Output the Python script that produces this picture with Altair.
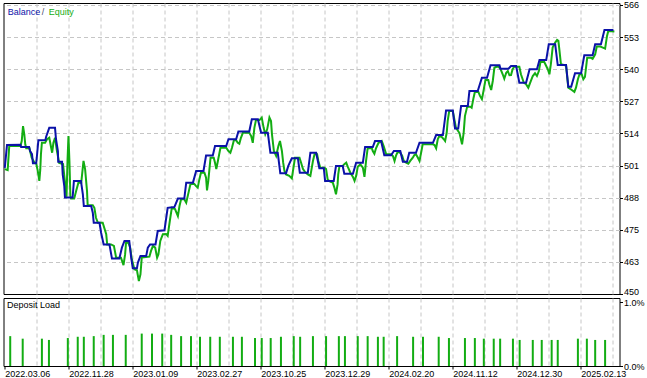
import json
import altair as alt
import pandas as pd

# ---- data (x = deal progress, v = account value) ----
balance_points = [
    (0, 500.6), (0.7, 509.8), (4.9, 509.9), (5.1, 509.0), (7.6, 509.0), (7.9, 507.4), (8.5, 506.2),
    (8.8, 502.5), (9.8, 502.5), (10.0, 504.7), (10.5, 511.7), (12.7, 511.8), (12.9, 513.0), (13.9, 516.7),
    (15.7, 516.7), (16.0, 512.2), (16.6, 507.4), (16.7, 503.1), (17.9, 503.1), (18.1, 498.0), (18.6, 493.3),
    (18.8, 488.7), (20.7, 488.7), (21.2, 488.7), (21.6, 495.4), (23.8, 495.4), (24.4, 490.0), (24.7, 485.3),
    (27.0, 485.3), (27.5, 482.6), (27.8, 478.6), (29.6, 478.6), (30.1, 474.6), (30.9, 469.9), (32.7, 469.9),
    (33.5, 464.2), (35.8, 464.2), (36.6, 468.6), (37.4, 471.3), (38.9, 471.3), (39.5, 464.6), (40.0, 460.3),
    (41.3, 460.3), (41.6, 462.6), (42.4, 465.3), (44.2, 465.3), (44.7, 468.6), (45.4, 469.9), (47.1, 469.9),
    (47.8, 475.3), (49.9, 475.6), (50.9, 484.6), (53.0, 484.9), (54.1, 488.3), (56.1, 488.3), (56.7, 494.7),
    (58.8, 494.7), (59.8, 499.4), (62.1, 499.4), (62.9, 505.6), (65.0, 505.6), (65.7, 509.4), (69.2, 509.4),
    (69.9, 512.1), (72.3, 512.1), (73.0, 515.2), (76.4, 515.2), (77.2, 520.1), (79.1, 520.1), (80.1, 514.7),
    (82.2, 514.7), (83.0, 506.7), (85.3, 506.7), (86.1, 498.5), (87.9, 498.5), (88.6, 501.4), (89.7, 504.5),
    (91.6, 504.5), (92.2, 498.7), (94.7, 498.7), (95.5, 506.7), (97.3, 506.7), (98.3, 500.5), (99.7, 500.5),
    (100.1, 495.4), (102.8, 495.4), (103.5, 501.4), (105.6, 501.4), (106.1, 498.3), (108.8, 498.3),
    (109.8, 502.7), (111.9, 502.7), (112.6, 509.0), (115.0, 509.0), (115.7, 511.4), (117.6, 511.4),
    (118.6, 505.7), (120.7, 505.7), (121.6, 507.4), (123.6, 507.4), (124.4, 503.1), (125.7, 503.1),
    (126.4, 506.7), (128.5, 506.7), (129.6, 510.7), (133.8, 510.7), (134.8, 513.8), (136.9, 513.8),
    (137.9, 523.7), (140.0, 523.7), (140.7, 516.4), (141.7, 516.4), (142.6, 525.5), (144.7, 525.5),
    (145.2, 531.5), (147.8, 531.5), (149.1, 536.8), (150.7, 536.8), (151.8, 541.8), (154.6, 541.8),
    (154.9, 540.4), (157.4, 540.4), (158.2, 541.5), (159.8, 541.5), (160.8, 534.8), (162.9, 534.8),
    (164.0, 540.2), (166.3, 540.2), (167.1, 543.9), (169.2, 543.9), (170.0, 550.2), (172.0, 550.2),
    (172.8, 541.9), (175.4, 541.9), (176.1, 533.2), (177.0, 533.2), (178.2, 538.6), (180.1, 538.6),
    (181.1, 545.8), (183.7, 545.8), (184.5, 550.2), (186.3, 550.2), (187.4, 556.0), (190.2, 556.0),
]

equity_points = [
    (0, 500.1), (0.9, 499.7), (1.4, 509.4), (4.9, 509.4), (5.3, 511.4), (5.7, 517.4), (6.1, 514.1),
    (6.4, 510.1), (6.7, 508.5), (7.7, 508.5), (8.4, 504.7), (9.3, 502.7), (9.8, 502.6), (10.3, 499.4),
    (10.8, 495.4), (11.1, 500.1), (11.3, 506.1), (11.6, 510.7), (12.6, 510.7), (13.2, 512.1), (13.9, 512.7),
    (14.5, 508.7), (14.8, 506.7), (15.2, 510.7), (15.7, 512.7), (16.3, 507.4), (17.0, 502.6), (18.2, 502.2),
    (18.7, 496.2), (19.3, 489.0), (19.6, 503.4), (19.9, 513.4), (20.2, 503.4), (20.5, 489.3), (20.7, 488.3),
    (21.7, 488.3), (22.3, 491.3), (23.0, 494.7), (23.9, 494.7), (24.6, 503.4), (25.1, 500.1), (25.7, 491.3),
    (25.9, 485.6), (27.5, 485.6), (28.0, 484.6), (28.5, 480.6), (29.1, 478.6), (30.6, 478.6), (31.7, 474.0),
    (32.0, 469.9), (33.2, 469.9), (34.1, 469.3), (34.8, 464.6), (36.3, 464.6), (37.1, 461.6), (37.6, 465.9),
    (37.9, 470.6), (38.6, 470.6), (39.2, 468.6), (39.7, 463.9), (40.5, 459.9), (41.3, 459.5), (41.9, 455.2),
    (42.4, 457.9), (42.8, 464.6), (45.2, 465.0), (45.7, 467.3), (46.3, 469.3), (47.0, 468.6), (47.6, 464.6),
    (48.0, 465.9), (48.6, 471.3), (49.4, 474.0), (50.4, 474.1), (50.9, 473.3), (51.7, 480.4), (52.2, 484.6),
    (53.2, 484.1), (54.1, 481.3), (54.6, 485.3), (55.1, 488.0), (56.1, 488.0), (56.7, 486.6), (57.4, 490.6),
    (58.0, 494.0), (59.2, 494.2), (59.8, 493.3), (60.3, 492.7), (60.8, 496.0), (61.3, 498.7), (62.4, 498.7),
    (62.9, 496.7), (63.2, 491.6), (63.6, 495.4), (64.3, 504.7), (65.3, 504.7), (65.7, 502.7), (66.1, 500.1),
    (66.7, 504.1), (67.4, 508.7), (69.2, 508.7), (69.9, 507.4), (70.5, 506.7), (71.0, 508.7), (71.6, 511.7),
    (72.3, 511.7), (72.8, 510.7), (73.3, 510.3), (73.8, 512.7), (74.4, 514.7), (76.4, 514.7), (77.0, 513.4),
    (77.5, 510.7), (78.0, 516.7), (78.5, 519.8), (79.6, 519.8), (80.3, 520.8), (80.9, 516.7), (81.4, 514.1),
    (82.0, 516.1), (82.7, 520.8), (83.2, 519.4), (83.5, 514.1), (84.1, 507.4), (84.8, 505.4), (85.5, 509.4),
    (86.0, 511.4), (86.6, 507.4), (87.0, 502.7), (87.4, 499.4), (87.9, 498.0), (88.9, 497.4), (89.7, 496.4),
    (90.3, 501.4), (90.7, 504.7), (92.1, 504.7), (92.6, 502.7), (93.2, 500.1), (93.8, 499.0), (94.7, 498.0),
    (95.5, 497.4), (96.3, 503.4), (96.8, 506.1), (97.6, 506.1), (98.0, 503.4), (98.6, 500.7), (99.9, 500.7),
    (100.4, 500.2), (100.9, 496.0), (101.7, 495.1), (102.5, 494.7), (103.0, 492.7), (103.5, 490.0),
    (104.0, 494.0), (104.2, 498.0), (104.6, 501.4), (105.6, 501.4), (106.1, 502.1), (106.7, 502.7),
    (107.2, 501.0), (108.0, 498.7), (108.8, 497.0), (109.3, 495.4), (109.8, 497.4), (110.3, 501.0),
    (111.1, 502.1), (111.9, 500.7), (112.4, 497.0), (112.9, 503.4), (113.4, 508.5), (114.7, 508.5),
    (115.0, 507.4), (115.5, 506.3), (116.0, 508.5), (116.8, 510.7), (117.8, 511.4), (118.4, 509.4),
    (119.2, 506.1), (120.7, 506.1), (121.3, 505.4), (121.8, 503.4), (122.3, 505.7), (122.8, 507.1),
    (123.6, 506.7), (124.2, 505.4), (124.7, 503.4), (125.4, 502.7), (126.1, 502.3), (126.7, 503.4),
    (127.5, 504.7), (128.0, 505.8), (128.5, 506.1), (129.1, 504.7), (129.6, 503.4), (130.1, 506.7),
    (130.6, 510.1), (133.8, 510.1), (134.3, 509.8), (134.8, 508.5), (135.3, 512.1), (135.8, 513.4),
    (136.6, 513.0), (137.2, 512.1), (137.6, 511.4), (138.1, 514.7), (138.4, 519.4), (138.9, 523.5),
    (140.0, 523.5), (140.5, 520.1), (141.0, 516.7), (142.1, 514.6), (142.9, 510.1), (143.4, 514.7),
    (143.8, 521.4), (144.5, 525.2), (145.5, 525.2), (145.9, 524.8), (146.5, 528.8), (146.9, 531.1),
    (148.0, 531.1), (148.5, 529.5), (149.1, 528.2), (149.6, 531.5), (150.2, 535.9), (151.1, 535.9),
    (151.4, 534.2), (152.0, 531.9), (152.5, 535.5), (153.0, 540.8), (154.1, 541.5), (154.9, 540.4),
    (155.6, 538.2), (156.1, 536.4), (156.7, 538.8), (157.2, 539.5), (157.7, 537.8), (158.2, 537.9),
    (158.7, 540.2), (159.2, 541.2), (160.8, 541.2), (161.3, 538.2), (162.2, 534.8), (162.9, 534.2),
    (163.6, 532.8), (164.2, 534.8), (165.0, 537.5), (165.7, 538.6), (166.3, 537.5), (166.9, 539.5),
    (167.4, 543.1), (168.6, 543.1), (169.2, 541.5), (169.7, 540.2), (170.2, 538.2), (170.7, 542.8),
    (171.2, 548.9), (172.0, 550.9), (172.6, 552.0), (173.0, 551.6), (173.3, 548.2), (173.8, 542.2),
    (175.4, 541.7), (176.1, 532.8), (177.2, 531.9), (178.0, 531.1), (178.5, 532.8), (179.1, 536.2),
    (179.6, 538.2), (180.3, 538.2), (180.8, 536.2), (181.3, 537.1), (182.0, 544.8), (183.2, 544.8),
    (183.7, 544.4), (184.5, 546.2), (185.0, 549.3), (186.1, 549.3), (186.9, 548.9), (187.6, 548.5),
    (188.2, 553.6), (188.6, 555.6), (190.5, 555.4),
]

load_x = [1.7, 5.6, 11.6, 13.8, 19.7, 22.8, 24.7, 27.8, 30.9, 33.8, 37.8, 42.8, 46.0, 49.2, 52.0, 55.1,
          58.2, 61.0, 64.2, 67.2, 71.3, 74.1, 78.2, 80.3, 83.1, 86.3, 90.3, 92.3, 96.3, 100.4, 104.4,
          106.3, 110.3, 113.4, 116.6, 118.4, 122.6, 127.6, 130.7, 135.6, 138.8, 143.8, 146.9, 149.7,
          152.8, 154.8, 158.8, 160.9, 165.0, 167.8, 170.9, 172.8, 179.1, 181.9, 184.5, 187.6]
load_pct = [0.47, 0.43, 0.43, 0.41, 0.44, 0.46, 0.46, 0.47, 0.49, 0.49, 0.49, 0.51, 0.51, 0.51, 0.49,
            0.47, 0.47, 0.46, 0.46, 0.46, 0.46, 0.46, 0.44, 0.44, 0.44, 0.46, 0.47, 0.46, 0.47, 0.47,
            0.47, 0.47, 0.47, 0.47, 0.46, 0.46, 0.47, 0.46, 0.46, 0.46, 0.44, 0.44, 0.44, 0.43, 0.43,
            0.43, 0.43, 0.41, 0.41, 0.41, 0.41, 0.41, 0.43, 0.43, 0.41, 0.41]

date_labels = ["2022.03.06", "2022.11.28", "2023.01.09", "2023.02.27", "2023.10.25",
               "2023.12.29", "2024.02.20", "2024.11.12", "2024.12.30", "2025.02.13"]
balance_labels = ["450", "463", "475", "488", "501", "514", "527", "540", "553", "566"]
load_labels = [0, 1]

FONT = "Liberation Sans"
BLUE = "#0b12a8"
GREEN = "#13ad13"
GRID = "#c6c6c6"

bal_df = pd.DataFrame(balance_points, columns=["x", "v"])
eq_df = pd.DataFrame(equity_points, columns=["x", "v"])
load_df = pd.DataFrame({"x": load_x, "p": load_pct})

Y_LO, Y_HI = 450, 566
y_vals = [Y_LO + i * (Y_HI - Y_LO) / 9 for i in range(10)]
grid_all = list(range(0, 191, 10))
grid_top = list(range(10, 191, 10))

xscale = alt.Scale(domain=[-0.4, 192.1], nice=False, zero=False)
yscale = alt.Scale(domain=[450, 566.8], nice=False, zero=False)
pscale = alt.Scale(domain=[0, 1.07], nice=False, zero=True)

grid_kw = dict(grid=True, gridColor=GRID, gridDash=[4, 3], gridWidth=1)

x_top = alt.Axis(values=grid_top, labels=False, ticks=False, domain=False, title=None, **grid_kw)
y_top = alt.Axis(
    orient="right", values=y_vals,
    labelExpr=f"{json.dumps(balance_labels)}[round((datum.value - {Y_LO}) * 9 / {Y_HI - Y_LO})]",
    tickSize=3, labelPadding=1, domain=False, title=None, labelFlush=False,
    labelOffset={"condition": {"test": "datum.value < 451", "value": -2.5}, "value": 0},
    gridOpacity={"condition": {"test": "datum.value < 451", "value": 0}, "value": 1},
    **grid_kw,
)

x_bot = alt.Axis(
    values=grid_all,
    labelExpr=f"datum.value % 20 == 0 ? {json.dumps(date_labels)}[round(datum.value / 20)] : ''",
    labelAlign="left", labelPadding=0, tickSize=3,
    tickOpacity={"condition": {"test": "datum.value % 20 == 0", "value": 1}, "value": 0},
    gridOpacity={"condition": {"test": "datum.value <= 0", "value": 0}, "value": 1},
    domain=False, labelFlush=False, labelOverlap=False, title=None, **grid_kw,
)
y_bot = alt.Axis(
    orient="right", values=load_labels,
    labelExpr="format(datum.value, '.1f') + '%'",
    tickSize=3, labelPadding=1, grid=False, domain=False, title=None, labelFlush=False,
)


def label(text, color, xpos, ypos):
    return alt.Chart(pd.DataFrame({"t": [text]})).mark_text(
        align="left", baseline="alphabetic", font=FONT, fontSize=9, color=color
    ).encode(x=alt.value(xpos), y=alt.value(ypos), text="t:N")


eq_line = alt.Chart(eq_df).mark_line(color=GREEN, strokeWidth=2, clip=True).encode(
    x=alt.X("x:Q", scale=xscale, axis=x_top),
    y=alt.Y("v:Q", scale=yscale, axis=y_top),
    order="x:Q",
)
bal_line = alt.Chart(bal_df).mark_line(color=BLUE, strokeWidth=2, clip=True).encode(
    x=alt.X("x:Q", scale=xscale, axis=x_top),
    y=alt.Y("v:Q", scale=yscale, axis=y_top),
    order="x:Q",
)

top = alt.layer(
    eq_line, bal_line,
    label("Balance", BLUE, 4.2, 11.7),
    label("/", "#4a4a6a", 38.2, 11.7),
    label("Equity", GREEN, 45.2, 11.7),
).properties(width=616, height=291)

bars = alt.Chart(load_df).mark_rule(color=GREEN, strokeWidth=2).encode(
    x=alt.X("x:Q", scale=xscale, axis=x_bot),
    y=alt.Y("p:Q", scale=pscale, axis=y_bot),
    y2=alt.datum(0),
)
bottom = alt.layer(bars, label("Deposit Load", "#000000", 3.5, 9.7)).properties(width=616, height=68)

chart = (
    alt.vconcat(top, bottom, spacing=4, bounds="flush")
    .properties(padding={"left": 2.5, "top": 0, "right": 0, "bottom": 0}, background="white")
    .configure_view(stroke="black", strokeWidth=1)
    .configure_axis(labelFont=FONT, labelFontSize=9, labelColor="black", tickColor="black")
)

chart.save("out.html", embed_options={"renderer": "svg", "actions": False})
